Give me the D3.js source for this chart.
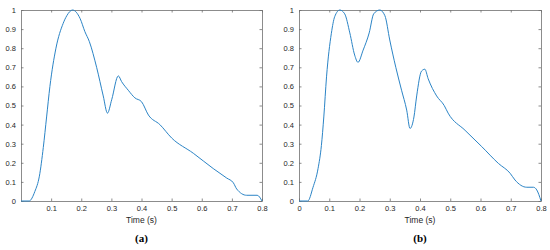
<!DOCTYPE html>
<html>
<head>
<meta charset="utf-8">
<script src="https://cdn.jsdelivr.net/npm/d3@7"></script>
<style>
  body { margin: 0; background: #fff; }
  svg { display: block; }
  .tick text { font-family: "Liberation Sans", Arial, sans-serif; font-size: 7.5px; fill: #262626; }
</style>
</head>
<body>
<script>
//data
var timeA = [0, 0.027, 0.046, 0.061, 0.074, 0.085, 0.096, 0.116, 0.14, 0.152, 0.171, 0.196, 0.212, 0.227,
  0.251, 0.273, 0.287, 0.301, 0.323, 0.334, 0.356, 0.378, 0.40, 0.423, 0.461, 0.50, 0.572, 0.638,
  0.683, 0.705, 0.716, 0.749, 0.784, 0.80];
var valueA = [0, 0, 0.05, 0.13, 0.28, 0.44, 0.60, 0.80, 0.93, 0.97, 1.0, 0.956, 0.887, 0.834,
  0.70, 0.55, 0.46, 0.53, 0.655, 0.625, 0.58, 0.54, 0.52, 0.45, 0.40, 0.33, 0.25, 0.17,
  0.12, 0.095, 0.063, 0.03, 0.03, 0];

var timeB = [0, 0.029, 0.046, 0.063, 0.074, 0.082, 0.091, 0.107, 0.118, 0.135, 0.151, 0.168, 0.184, 0.195,
  0.212, 0.232, 0.247, 0.267, 0.284, 0.30, 0.32, 0.339, 0.356, 0.367, 0.38, 0.389, 0.405, 0.416,
  0.427, 0.455, 0.48, 0.493, 0.549, 0.604, 0.659, 0.698, 0.714, 0.753, 0.775, 0.786, 0.80];
var valueB = [0, 0, 0.07, 0.17, 0.29, 0.44, 0.65, 0.878, 0.965, 1.0, 0.98, 0.88, 0.764, 0.726,
  0.79, 0.88, 0.98, 1.0, 0.97, 0.843, 0.70, 0.58, 0.476, 0.38, 0.44, 0.55, 0.68, 0.69,
  0.64, 0.55, 0.50, 0.46, 0.37, 0.285, 0.197, 0.145, 0.11, 0.072, 0.072, 0.058, 0];

var xTicksA = [0.1, 0.2, 0.3, 0.4, 0.5, 0.6, 0.7, 0.8];
var xTicksB = [0, 0.1, 0.2, 0.3, 0.4, 0.5, 0.6, 0.7, 0.8];
var yTicks = [0, 0.1, 0.2, 0.3, 0.4, 0.5, 0.6, 0.7, 0.8, 0.9, 1];
var xLabel = "Time (s)";
var captions = ["(a)", "(b)"];

var width = 550, height = 250;
var plotTop = 10, plotBottom = 201;

var svg = d3.select("body").append("svg")
  .attr("width", width)
  .attr("height", height);

var panels = [
  { left: 21, right: 262, t: timeA, v: valueA, xt: xTicksA, cap: captions[0] },
  { left: 299, right: 541, t: timeB, v: valueB, xt: xTicksB, cap: captions[1] }
];

var fmt = function (d) { return d === 0 ? "0" : d === 1 ? "1" : d3.format(".1f")(d); };

panels.forEach(function (p) {
  var x = d3.scaleLinear().domain([0, 0.8]).range([p.left, p.right]);
  var y = d3.scaleLinear().domain([0, 1]).range([plotBottom, plotTop]);
  var g = svg.append("g");

  //box with inward ticks on all four sides, like matlab
  g.append("g").attr("transform", "translate(0," + plotBottom + ")")
    .call(d3.axisBottom(x).tickValues(p.xt).tickFormat(fmt).tickSizeInner(-2.5).tickSizeOuter(0).tickPadding(5));
  g.append("g").attr("transform", "translate(0," + plotTop + ")")
    .call(d3.axisTop(x).tickValues(p.xt).tickFormat("").tickSizeInner(-2.5).tickSizeOuter(0));
  g.append("g").attr("transform", "translate(" + p.left + ",0)")
    .call(d3.axisLeft(y).tickValues(yTicks).tickFormat(fmt).tickSizeInner(-2.5).tickSizeOuter(0).tickPadding(5));
  g.append("g").attr("transform", "translate(" + p.right + ",0)")
    .call(d3.axisRight(y).tickValues(yTicks).tickFormat("").tickSizeInner(-2.5).tickSizeOuter(0));
  g.selectAll(".domain, .tick line").attr("stroke", "#6e6e6e").attr("stroke-width", 0.8);

  var line = d3.line()
    .x(function (d, i) { return x(p.t[i]); })
    .y(function (d) { return y(d); })
    .curve(d3.curveMonotoneX);

  g.append("path")
    .datum(p.v)
    .attr("d", line)
    .attr("fill", "none")
    .attr("stroke", "#2b84c6")
    .attr("stroke-width", 1);

  g.append("text")
    .attr("x", (p.left + p.right) / 2)
    .attr("y", 223)
    .attr("text-anchor", "middle")
    .style("font-family", "Liberation Sans, Arial, sans-serif")
    .style("font-size", "8.5px")
    .style("fill", "#262626")
    .text(xLabel);

  g.append("text")
    .attr("x", (p.left + p.right) / 2)
    .attr("y", 242)
    .attr("text-anchor", "middle")
    .style("font-family", "Liberation Serif, Times New Roman, serif")
    .style("font-weight", "bold")
    .style("font-size", "11px")
    .text(p.cap);
});
</script>
</body>
</html>
